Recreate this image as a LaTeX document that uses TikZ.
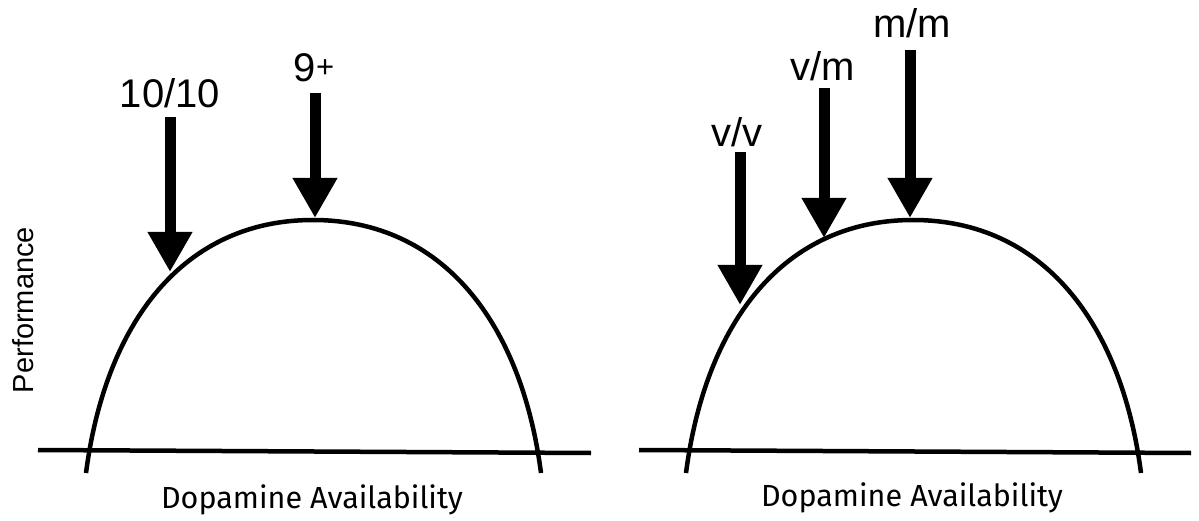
\documentclass[tikz,border=0pt]{standalone}
\usepackage{fontspec}
\setmainfont{Liberation Sans}
\newfontfamily\firafont{Fira Sans}
\usetikzlibrary{arrows.meta}
\begin{document}
\begin{tikzpicture}[x=1pt,y=-1pt,
  curveline/.style={line width=4.5pt},
  axisline/.style={line width=4.5pt},
  bigarrow/.style={line width=11pt,-{Triangle[width=42pt,length=40pt]}},
  lbl/.style={font=\fontsize{40}{48}\selectfont,anchor=base,inner sep=0pt},
  xlbl/.style={font=\firafont\fontsize{30.5}{36}\selectfont,anchor=base,inner sep=0pt},
  ylbl/.style={font=\fontsize{29}{35}\selectfont,anchor=base,inner sep=0pt,rotate=90}]
\useasboundingbox (0,0) rectangle (1199,521);
% ---------- left panel ----------
\coordinate (LaxA) at (38,450);
\coordinate (LaxB) at (591,453);
\draw[axisline] (LaxA) -- (LaxB);
\coordinate (LfootL) at (86,473);
\coordinate (Ltop) at (313,220);
\coordinate (LfootR) at (541,473);
\draw[curveline] (LfootL) .. controls (105.5,323) and (183,220) .. (Ltop)
  .. controls (443,220) and (521.5,323) .. (LfootR);
\coordinate (A1s) at (170,117);
\coordinate (A1e) at (170,272);
\draw[bigarrow] (A1s) -- (A1e);
\coordinate (A2s) at (315,93);
\coordinate (A2e) at (315,218);
\draw[bigarrow] (A2s) -- (A2e);
\node[lbl] (L1) at (170,108) {10/10};
\node[lbl] (L2) at (314,82) {9\raisebox{4pt}{\fontsize{31}{31}\selectfont +}};
\node[ylbl] (Yl) at (33,310) {Performance};
\node[xlbl] (X1) at (312,508) {Dopamine Availability};
% ---------- right panel ----------
\coordinate (RaxA) at (639,450);
\coordinate (RaxB) at (1191,453);
\draw[axisline] (RaxA) -- (RaxB);
\coordinate (RfootL) at (686,473);
\coordinate (Rtop) at (913,220);
\coordinate (RfootR) at (1141,473);
\draw[curveline] (RfootL) .. controls (705.5,323) and (783,220) .. (Rtop)
  .. controls (1043,220) and (1121.5,323) .. (RfootR);
\coordinate (B1s) at (740,152);
\coordinate (B1e) at (740,305);
\draw[bigarrow] (B1s) -- (B1e);
\coordinate (B2s) at (824,88);
\coordinate (B2e) at (824,238);
\draw[bigarrow] (B2s) -- (B2e);
\coordinate (B3s) at (910,50);
\coordinate (B3e) at (910,218);
\draw[bigarrow] (B3s) -- (B3e);
\node[lbl] (M1) at (737,147) {v/v};
\node[lbl] (M2) at (823,81) {v/m};
\node[lbl] (M3) at (912,38) {m/m};
\node[xlbl] (X2) at (912,506) {Dopamine Availability};
\end{tikzpicture}
\end{document}
